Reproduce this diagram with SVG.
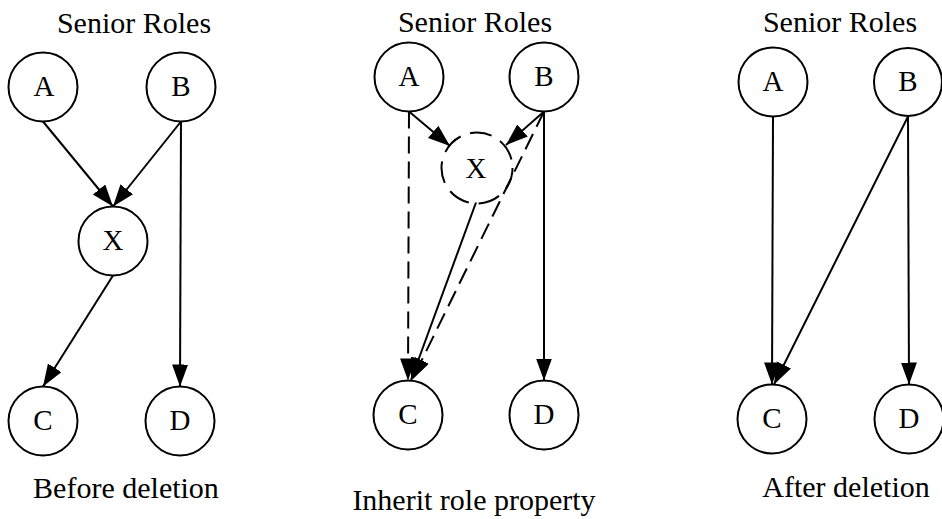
<svg xmlns="http://www.w3.org/2000/svg" width="942" height="519" viewBox="0 0 942 519">
  <style>
    .node { fill: #fff; stroke: #000; stroke-width: 2; }
    .ghost { fill: none; stroke: #000; stroke-width: 2; stroke-dasharray: 22 10; }
    .lbl { font-family: "Liberation Serif", "Times New Roman", serif; font-size: 29px; text-anchor: middle; fill: #000; }
    .cap { font-family: "Liberation Serif", "Times New Roman", serif; font-size: 30px; text-anchor: middle; fill: #000; }
    .edge { fill: none; stroke: #000; stroke-width: 2; marker-end: url(#head); }
    .dash { stroke-dasharray: 17 8; }
  </style>
  <defs>
    <marker id="head" markerUnits="userSpaceOnUse" markerWidth="24" markerHeight="18" refX="22" refY="8" orient="auto">
      <path d="M0,0 L22,8 L0,16 Z" fill="#000"/>
    </marker>
  </defs>
  <rect width="942" height="519" fill="#fff"/>

  <!-- captions -->
  <text class="cap" x="134" y="33">Senior Roles</text>
  <text class="cap" x="475" y="32">Senior Roles</text>
  <text class="cap" x="840" y="32">Senior Roles</text>
  <text class="cap" x="126" y="498">Before deletion</text>
  <text class="cap" x="474" y="510">Inherit role property</text>
  <text class="cap" x="846" y="497">After deletion</text>

  <!-- connectors -->
  <g id="connectors">
    <!-- before deletion -->
    <line class="edge" x1="43" y1="121.5" x2="113" y2="206.5"/>
    <line class="edge" x1="181" y1="121.5" x2="113" y2="206.5"/>
    <line class="edge" x1="181" y1="121.5" x2="180" y2="386.5"/>
    <line class="edge" x1="113" y1="275.5" x2="43" y2="386.5"/>
    <!-- inherit role property -->
    <line class="edge" x1="409" y1="111.5" x2="450" y2="146"/>
    <line class="edge" x1="544" y1="111.5" x2="506" y2="145"/>
    <line class="edge dash" x1="409" y1="111.5" x2="408" y2="380.5"/>
    <line class="edge dash" x1="544" y1="111.5" x2="412" y2="380"/>
    <line class="edge" x1="476" y1="202.5" x2="411" y2="380"/>
    <line class="edge" x1="544" y1="111.5" x2="544" y2="380.5"/>
    <!-- after deletion -->
    <line class="edge" x1="773" y1="116.5" x2="772" y2="384.5"/>
    <line class="edge" x1="908" y1="116.5" x2="774" y2="384.5"/>
    <line class="edge" x1="908" y1="116.5" x2="909" y2="384.5"/>
  </g>

  <!-- before deletion -->
  <g id="p1-A"><circle class="node" cx="43" cy="87" r="34.5"/><text class="lbl" x="44" y="96">A</text></g>
  <g id="p1-B"><circle class="node" cx="181" cy="87" r="34.5"/><text class="lbl" x="181" y="96">B</text></g>
  <g id="p1-X"><circle class="node" cx="113" cy="241" r="34.5"/><text class="lbl" x="113" y="250">X</text></g>
  <g id="p1-C"><circle class="node" cx="43" cy="421" r="34.5"/><text class="lbl" x="43" y="430">C</text></g>
  <g id="p1-D"><circle class="node" cx="180" cy="421" r="34.5"/><text class="lbl" x="180" y="430">D</text></g>

  <!-- inherit role property -->
  <g id="p2-A"><circle class="node" cx="409" cy="77" r="34.5"/><text class="lbl" x="409" y="86">A</text></g>
  <g id="p2-B"><circle class="node" cx="544" cy="77" r="34.5"/><text class="lbl" x="544" y="86">B</text></g>
  <g id="p2-X"><circle class="ghost" cx="477" cy="168" r="35.5"/><text class="lbl" x="476" y="178">X</text></g>
  <g id="p2-C"><circle class="node" cx="408" cy="415" r="34.5"/><text class="lbl" x="408" y="424">C</text></g>
  <g id="p2-D"><circle class="node" cx="544" cy="415" r="34.5"/><text class="lbl" x="544" y="424">D</text></g>

  <!-- after deletion -->
  <g id="p3-A"><circle class="node" cx="773" cy="82" r="34.5"/><text class="lbl" x="773" y="91">A</text></g>
  <g id="p3-B"><circle class="node" cx="908" cy="82" r="34"/><text class="lbl" x="908" y="91">B</text></g>
  <g id="p3-C"><circle class="node" cx="772" cy="419" r="34.5"/><text class="lbl" x="772" y="428">C</text></g>
  <g id="p3-D"><circle class="node" cx="909" cy="419" r="34.5"/><text class="lbl" x="909" y="428">D</text></g>
</svg>
